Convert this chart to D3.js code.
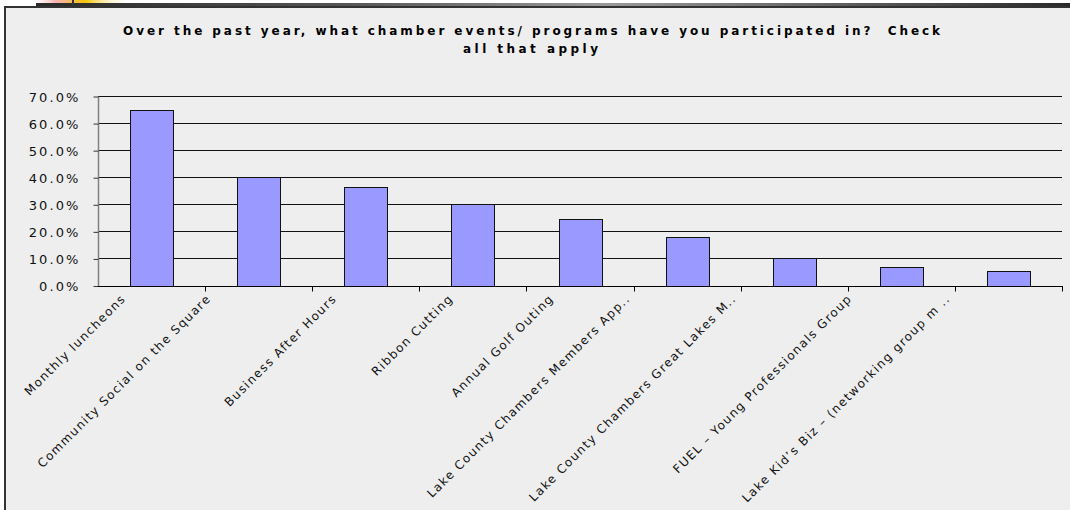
<!DOCTYPE html>
<html><head><meta charset="utf-8">
<script src="https://cdn.jsdelivr.net/npm/d3@7"></script>
<style>html,body{margin:0;padding:0;background:#fff;} svg{display:block}</style>
</head><body>
<svg id="c" width="1070" height="510"></svg>
<script>
const titleLines = ["Over the past year, what chamber events/ programs have you participated in?  Check", "all that apply"];
const categories = [
  "Monthly luncheons",
  "Community Social on the Square",
  "Business After Hours",
  "Ribbon Cutting",
  "Annual Golf Outing",
  "Lake County Chambers Members App..",
  "Lake County Chambers Great Lakes M..",
  "FUEL – Young Professionals Group",
  "Lake Kid’s Biz – (networking group m .."
];
const values = [0.65, 0.40, 0.365, 0.30, 0.246, 0.181, 0.102, 0.067, 0.052];
const yTicks = [0, 0.1, 0.2, 0.3, 0.4, 0.5, 0.6, 0.7];

(function(){
const svg = d3.select("#c");
const defs = svg.append("defs");

// decorative slide strip at top
const g1 = defs.append("linearGradient").attr("id","strip");
[["0%","#2a2a2a"],["30%","#555"],["55%","#9a9a9a"],["80%","#5a5a5a"],["100%","#2a2a2a"]]
  .forEach(([o,c])=>g1.append("stop").attr("offset",o).attr("stop-color",c));
const g2 = defs.append("linearGradient").attr("id","warm");
[["0%","#ffffff",0],["25%","#f4a0a0",0.8],["55%","#f5c400",1],["100%","#ffffff",0]]
  .forEach(([o,c,a])=>g2.append("stop").attr("offset",o).attr("stop-color",c).attr("stop-opacity",a));
svg.append("rect").attr("x",30).attr("y",0).attr("width",100).attr("height",3).attr("fill","url(#warm)");
svg.append("rect").attr("x",36).attr("y",3).attr("width",1034).attr("height",3).attr("fill","url(#strip)");
svg.append("rect").attr("x",72).attr("y",0).attr("width",2).attr("height",7).attr("fill","#333");

// chart box
svg.append("rect").attr("x",5).attr("y",6).attr("width",1070).attr("height",510).attr("fill","#eeeeee");
svg.append("rect").attr("x",4).attr("y",6).attr("width",2).attr("height",504).attr("fill","#333");
svg.append("rect").attr("x",4).attr("y",6).attr("width",1066).attr("height",2).attr("fill","#333");

const pLeft = 98, pRight = 1062, pTop = 96, pBottom = 285.5;
const x = d3.scaleBand().domain(categories).range([pLeft, pRight]).padding(0);
const y = d3.scaleLinear().domain([0, 0.7]).range([pBottom, pTop]);

// title
const title = svg.append("text").attr("font-family","DejaVu Sans, Verdana, sans-serif")
  .attr("font-weight","bold").attr("font-size",12).attr("fill","#000").style("white-space","pre");
const targets = [[123, 940, 35], [463, 598, 53]];
titleLines.forEach((t,i)=>{
  const el = title.append("tspan").attr("x",targets[i][0]).attr("y",targets[i][2]).text(t);
  const nat = el.node().getComputedTextLength();
  const ls = (targets[i][1]-targets[i][0]-nat)/(t.length-1);
  el.attr("letter-spacing", ls);
});

// gridlines
svg.append("g").selectAll("line").data(yTicks.filter(d=>d>0)).join("line")
  .attr("x1",pLeft).attr("x2",pRight)
  .attr("y1",d=>Math.round(y(d))+0.5).attr("y2",d=>Math.round(y(d))+0.5)
  .attr("stroke","#111").attr("stroke-width",1);

// bars
const bw = x.bandwidth()*0.4;
svg.append("g").selectAll("rect").data(values).join("rect")
  .attr("x",(d,i)=>Math.round(x(categories[i]) + (x.bandwidth()-bw)/2)+0.5)
  .attr("width",Math.round(bw))
  .attr("y",d=>Math.round(y(d))+0.5)
  .attr("height",d=>Math.round(y(0))-Math.round(y(d)))
  .attr("fill","#9999ff").attr("stroke","#111").attr("stroke-width",1);

// y axis
const yAxis = svg.append("g").attr("transform",`translate(${pLeft+0.5},0.5)`)
  .call(d3.axisLeft(y).tickValues(yTicks).tickSize(5).tickPadding(13).tickFormat(d3.format(".1%")));
yAxis.select(".domain").attr("stroke","#808080").attr("stroke-width",1.5).attr("d",`M0,${pTop}V${pBottom}`);
yAxis.selectAll(".tick line").attr("stroke","#333");
yAxis.selectAll(".tick text").attr("font-family","DejaVu Sans, Verdana, sans-serif")
  .attr("font-size",13).attr("letter-spacing",2.1).attr("fill","#111").attr("dy","0.38em");

// x axis line and boundary ticks
const yb = Math.round(pBottom)+0.5;
svg.append("line").attr("x1",pLeft).attr("x2",pRight+1).attr("y1",yb).attr("y2",yb).attr("stroke","#000");
const bounds = categories.map(c=>x(c)).concat([x.range()[1]]);
svg.append("g").selectAll("line").data(bounds.slice(1)).join("line")
  .attr("x1",d=>Math.round(d)+0.5).attr("x2",d=>Math.round(d)+0.5)
  .attr("y1",yb).attr("y2",yb+5).attr("stroke","#000");

// x labels
defs.append("clipPath").attr("id","lblclip").append("rect")
  .attr("x",0).attr("y",289).attr("width",1070).attr("height",221);
const lg = svg.append("g").attr("clip-path","url(#lblclip)");
categories.forEach(c=>{
  const t = lg.append("text").attr("font-family","DejaVu Sans, Verdana, sans-serif")
    .attr("font-size",12).attr("letter-spacing",1.4).attr("fill","#111")
    .attr("text-anchor","end").attr("dy","0.75em").text(c);
  const L = t.node().getComputedTextLength();
  const cx = x(c) + x.bandwidth()/2;
  const ex = cx - 2 - 0.215*L;
  t.attr("transform",`translate(${ex},293) rotate(-45)`);
});
})();
</script>
</body></html>
